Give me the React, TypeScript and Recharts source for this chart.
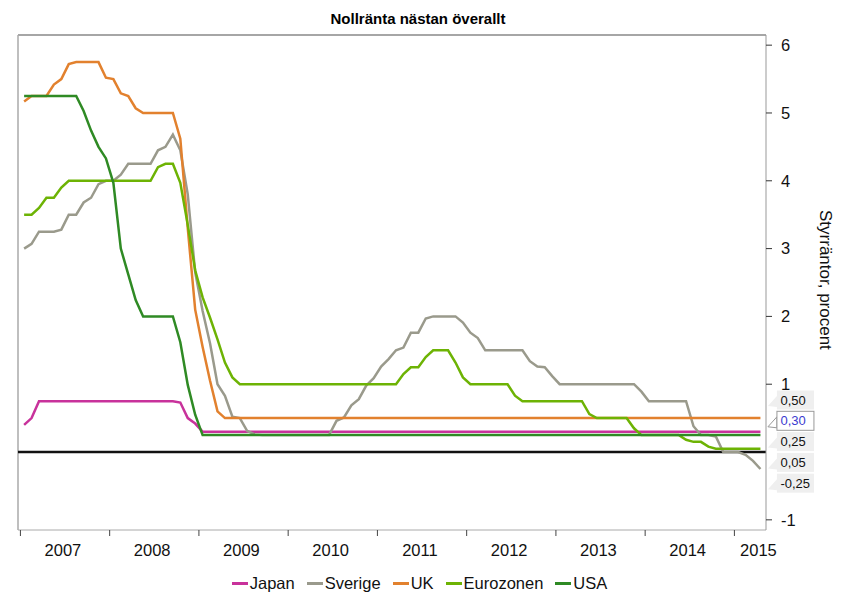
import React from 'react';
import { LineChart, Line, XAxis, YAxis, ReferenceLine, Legend } from 'recharts';

const FONT = '"Liberation Sans", Arial, Helvetica, sans-serif';

// Year boundaries on the x axis (labels sit between them)
const years = [2007, 2008, 2009, 2010, 2011, 2012, 2013, 2014, 2015];
const rightTicks = [-1, 1, 2, 3, 4, 5, 6];

// Monthly policy rates, Jan 2007 .. Apr 2015 (one row per year)
const japan = [
  0.4, 0.5, 0.75, 0.75, 0.75, 0.75, 0.75, 0.75, 0.75, 0.75, 0.75, 0.75,
  0.75, 0.75, 0.75, 0.75, 0.75, 0.75, 0.75, 0.75, 0.75, 0.73, 0.5, 0.42,
  0.3, 0.3, 0.3, 0.3, 0.3, 0.3, 0.3, 0.3, 0.3, 0.3, 0.3, 0.3,
  0.3, 0.3, 0.3, 0.3, 0.3, 0.3, 0.3, 0.3, 0.3, 0.3, 0.3, 0.3,
  0.3, 0.3, 0.3, 0.3, 0.3, 0.3, 0.3, 0.3, 0.3, 0.3, 0.3, 0.3,
  0.3, 0.3, 0.3, 0.3, 0.3, 0.3, 0.3, 0.3, 0.3, 0.3, 0.3, 0.3,
  0.3, 0.3, 0.3, 0.3, 0.3, 0.3, 0.3, 0.3, 0.3, 0.3, 0.3, 0.3,
  0.3, 0.3, 0.3, 0.3, 0.3, 0.3, 0.3, 0.3, 0.3, 0.3, 0.3, 0.3,
  0.3, 0.3, 0.3, 0.3,
];

const sverige = [
  3.0, 3.07, 3.25, 3.25, 3.25, 3.28, 3.5, 3.5, 3.68, 3.75, 3.95, 4.0,
  4.0, 4.09, 4.25, 4.25, 4.25, 4.25, 4.45, 4.5, 4.68, 4.45, 3.8, 2.65,
  2.08, 1.6, 1.0, 0.83, 0.52, 0.5, 0.31, 0.26, 0.25, 0.25, 0.25, 0.25,
  0.25, 0.25, 0.25, 0.25, 0.25, 0.25, 0.46, 0.51, 0.69, 0.78, 0.98, 1.09,
  1.26, 1.37, 1.5, 1.54, 1.76, 1.76, 1.97, 2.0, 2.0, 2.0, 2.0, 1.91,
  1.76, 1.68, 1.5, 1.5, 1.5, 1.5, 1.5, 1.5, 1.34, 1.26, 1.25, 1.12,
  1.0, 1.0, 1.0, 1.0, 1.0, 1.0, 1.0, 1.0, 1.0, 1.0, 1.0, 0.89,
  0.75, 0.75, 0.75, 0.75, 0.75, 0.75, 0.38, 0.25, 0.25, 0.23, 0.0, 0.0,
  0.0, -0.04, -0.13, -0.25,
];

const uk = [
  5.17, 5.25, 5.25, 5.25, 5.42, 5.5, 5.72, 5.75, 5.75, 5.75, 5.75, 5.52,
  5.5, 5.29, 5.25, 5.07, 5.0, 5.0, 5.0, 5.0, 5.0, 4.62, 3.3, 2.1,
  1.55, 1.05, 0.6, 0.5, 0.5, 0.5, 0.5, 0.5, 0.5, 0.5, 0.5, 0.5,
  0.5, 0.5, 0.5, 0.5, 0.5, 0.5, 0.5, 0.5, 0.5, 0.5, 0.5, 0.5,
  0.5, 0.5, 0.5, 0.5, 0.5, 0.5, 0.5, 0.5, 0.5, 0.5, 0.5, 0.5,
  0.5, 0.5, 0.5, 0.5, 0.5, 0.5, 0.5, 0.5, 0.5, 0.5, 0.5, 0.5,
  0.5, 0.5, 0.5, 0.5, 0.5, 0.5, 0.5, 0.5, 0.5, 0.5, 0.5, 0.5,
  0.5, 0.5, 0.5, 0.5, 0.5, 0.5, 0.5, 0.5, 0.5, 0.5, 0.5, 0.5,
  0.5, 0.5, 0.5, 0.5,
];

const eurozonen = [
  3.5, 3.5, 3.6, 3.75, 3.75, 3.9, 4.0, 4.0, 4.0, 4.0, 4.0, 4.0,
  4.0, 4.0, 4.0, 4.0, 4.0, 4.0, 4.2, 4.25, 4.25, 3.97, 3.35, 2.68,
  2.28, 1.98, 1.66, 1.32, 1.1, 1.0, 1.0, 1.0, 1.0, 1.0, 1.0, 1.0,
  1.0, 1.0, 1.0, 1.0, 1.0, 1.0, 1.0, 1.0, 1.0, 1.0, 1.0, 1.0,
  1.0, 1.0, 1.0, 1.15, 1.25, 1.25, 1.4, 1.5, 1.5, 1.5, 1.32, 1.1,
  1.0, 1.0, 1.0, 1.0, 1.0, 1.0, 0.83, 0.75, 0.75, 0.75, 0.75, 0.75,
  0.75, 0.75, 0.75, 0.75, 0.56, 0.5, 0.5, 0.5, 0.5, 0.5, 0.35, 0.25,
  0.25, 0.25, 0.25, 0.25, 0.25, 0.18, 0.15, 0.15, 0.08, 0.05, 0.05, 0.05,
  0.05, 0.05, 0.05, 0.05,
];

const usa = [
  5.25, 5.25, 5.25, 5.25, 5.25, 5.25, 5.25, 5.25, 5.03, 4.74, 4.5, 4.33,
  3.97, 3.0, 2.62, 2.24, 2.0, 2.0, 2.0, 2.0, 2.0, 1.62, 0.99, 0.55,
  0.25, 0.25, 0.25, 0.25, 0.25, 0.25, 0.25, 0.25, 0.25, 0.25, 0.25, 0.25,
  0.25, 0.25, 0.25, 0.25, 0.25, 0.25, 0.25, 0.25, 0.25, 0.25, 0.25, 0.25,
  0.25, 0.25, 0.25, 0.25, 0.25, 0.25, 0.25, 0.25, 0.25, 0.25, 0.25, 0.25,
  0.25, 0.25, 0.25, 0.25, 0.25, 0.25, 0.25, 0.25, 0.25, 0.25, 0.25, 0.25,
  0.25, 0.25, 0.25, 0.25, 0.25, 0.25, 0.25, 0.25, 0.25, 0.25, 0.25, 0.25,
  0.25, 0.25, 0.25, 0.25, 0.25, 0.25, 0.25, 0.25, 0.25, 0.25, 0.25, 0.25,
  0.25, 0.25, 0.25, 0.25,
];

const seriesNames = ['Japan', 'Sverige', 'UK', 'Eurozonen', 'USA'];
const seriesValues = [japan, sverige, uk, eurozonen, usa];
const seriesColors = ['#c8329b', '#9a9a8c', '#e2812e', '#6db304', '#2f8a24'];
const highlighted = 'Japan';

const data = japan.map((_, i) => {
  const row: Record<string, number> = { t: years[0] + (i + 0.5) / 12 };
  seriesNames.forEach((n, k) => {
    row[n] = seriesValues[k][i];
  });
  return row;
});

const lastIndex = data.length - 1;
const ranking = [...seriesNames].sort(
  (a, b) => (data[lastIndex][b] as number) - (data[lastIndex][a] as number)
);

const fmt = (v: number) => v.toFixed(2).replace('.', ',');

const makeCallout = (name: string) => (props: any) => {
  const index = props.index;
  if (index !== lastIndex) return null;
  const x = props.x ?? props.viewBox?.x;
  const value = data[lastIndex][name] as number;
  const rank = ranking.indexOf(name);
  const cy = 400 + rank * 20.8;
  const bx = x + 16.5;
  const hl = name === highlighted;
  return (
    <g key={`callout-${name}`}>
      <polygon
        points={`${bx},${cy - 4} ${bx},${cy + 7} ${bx - 9},${cy + 6}`}
        fill={hl ? '#fff' : '#efefef'}
        stroke={hl ? '#999' : 'none'}
      />
      <rect
        x={bx}
        y={cy - 9.5}
        width={37}
        height={19}
        fill={hl ? '#fff' : '#efefef'}
        stroke={hl ? '#999' : 'none'}
      />
      <text
        x={bx + 3.5}
        y={cy + 4.5}
        fontSize={13}
        fontFamily={FONT}
        fill={hl ? '#3b3bd0' : '#111'}
      >
        {fmt(value)}
      </text>
    </g>
  );
};

const YearTick = (props: any) => {
  const { x, y, payload } = props;
  const isLast = payload.value === years[years.length - 1];
  const off = isLast ? 24 : 42.5;
  return (
    <g>
      <line x1={x} y1={y} x2={x} y2={y + 6} stroke="#444" strokeWidth={1} />
      <text x={x + off} y={y + 26} textAnchor="middle" fontSize={16.5} fontFamily={FONT} fill="#111">
        {payload.value}
      </text>
    </g>
  );
};

const renderLegend = (props: any) => {
  const items = [...(props.payload || [])].sort(
    (a: any, b: any) => seriesNames.indexOf(a.value) - seriesNames.indexOf(b.value)
  );
  return (
    <div
      style={{
        display: 'flex',
        justifyContent: 'center',
        alignItems: 'center',
        gap: 12,
        height: 24,
        fontSize: 16.5,
        color: '#111',
        fontFamily: FONT,
        paddingRight: 9,
      }}
    >
      {items.map((p: any) => (
        <span key={p.value} style={{ display: 'inline-flex', alignItems: 'center' }}>
          <span style={{ display: 'inline-block', width: 16, height: 3, background: p.color, marginRight: 2 }} />
          {p.value}
        </span>
      ))}
    </div>
  );
};

const xDomain = [2006.973, 2015.354];
const yDomain = [-1.15, 6.15];

export default function App() {
  return (
    <div style={{ position: 'absolute', left: 0, top: 0, width: 848, height: 595, background: '#fff', fontFamily: FONT }}>
      <div
        style={{
          position: 'absolute',
          left: 0,
          top: 9.5,
          width: 836,
          textAlign: 'center',
          fontWeight: 'bold',
          fontSize: 15,
          color: '#000',
          zIndex: 2,
        }}
      >
        Nollränta nästan överallt
      </div>
      <LineChart width={848} height={595} data={data} margin={{ top: 35, right: 12, bottom: 6, left: 18 }}>
        <XAxis
          xAxisId="top"
          orientation="top"
          type="number"
          domain={xDomain}
          tick={false}
          tickLine={false}
          axisLine={{ stroke: '#888' }}
          height={0}
        />
        <XAxis
          xAxisId="bottom"
          dataKey="t"
          type="number"
          domain={xDomain}
          ticks={years}
          interval={0}
          tick={<YearTick />}
          tickLine={false}
          tickSize={0}
          tickMargin={0}
          axisLine={{ stroke: '#aaa' }}
          height={35}
        />
        <YAxis
          yAxisId="left"
          orientation="left"
          type="number"
          domain={yDomain}
          tick={false}
          tickLine={false}
          axisLine={{ stroke: '#aaa' }}
          width={0}
        />
        <YAxis
          yAxisId="right"
          orientation="right"
          type="number"
          domain={yDomain}
          ticks={rightTicks}
          interval={0}
          tickSize={6}
          tickMargin={9}
          tickLine={{ stroke: '#333' }}
          axisLine={{ stroke: '#999' }}
          tick={{ fontSize: 16.5, fill: '#111', fontFamily: FONT }}
          width={70}
        />
        <ReferenceLine xAxisId="bottom" yAxisId="right" y={yDomain[1]} stroke="#888" strokeWidth={1.5} />
        <ReferenceLine xAxisId="bottom" yAxisId="right" x={xDomain[0]} stroke="#aaa" strokeWidth={1.5} />
        <ReferenceLine xAxisId="bottom" yAxisId="right" y={0} stroke="#111" strokeWidth={2.5} />
        {seriesNames.map((n, k) => (
          <Line
            key={n}
            xAxisId="bottom"
            yAxisId="right"
            type="linear"
            dataKey={n}
            name={n}
            stroke={seriesColors[k]}
            strokeWidth={2.5}
            dot={false}
            activeDot={false}
            isAnimationActive={false}
            label={makeCallout(n)}
          />
        ))}
        <Legend verticalAlign="bottom" content={renderLegend} wrapperStyle={{ height: 24, top: 571, left: 0, width: 848 }} />
      </LineChart>
      <div
        style={{
          position: 'absolute',
          left: 815,
          top: 210,
          writingMode: 'vertical-rl',
          fontSize: 17,
          color: '#111',
          whiteSpace: 'nowrap',
        }}
      >
        Styrräntor, procent
      </div>
    </div>
  );
}
